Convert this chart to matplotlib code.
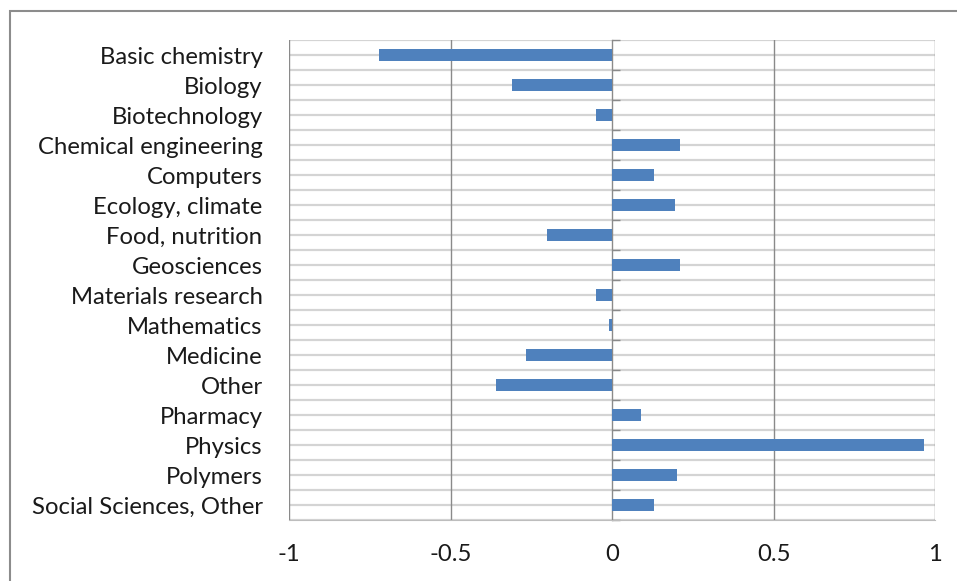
import matplotlib.pyplot as plt
import numpy as np
from matplotlib.patches import Rectangle

fields = ['Basic chemistry', 'Biology', 'Biotechnology', 'Chemical engineering',
          'Computers', 'Ecology, climate', 'Food, nutrition', 'Geosciences',
          'Materials research', 'Mathematics', 'Medicine', 'Other', 'Pharmacy',
          'Physics', 'Polymers', 'Social Sciences, Other']
values = [-0.72, -0.31, -0.05, 0.21, 0.13, 0.195, -0.20, 0.21,
          -0.05, -0.01, -0.265, -0.36, 0.09, 0.965, 0.20, 0.13]
xticks = [-1, -0.5, 0, 0.5, 1]
xticklabels = ['-1', '-0.5', '0', '0.5', '1']

W, H = 957, 581
fig = plt.figure(figsize=(W / 100, H / 100), dpi=100)
ax = fig.add_axes([289 / W, 1 - 520 / H, (935 - 289) / W, (520 - 40) / H])

# outer chart border (runs off the right and bottom edges)
fig.patches.append(Rectangle((10 / W, -0.1), 1.2, 1.1 - 11 / H, transform=fig.transFigure,
                             fill=False, edgecolor='#8c8c8c', linewidth=1.5))

n = len(fields)
pos = np.arange(n)

# horizontal grid at every half category
for y in np.arange(-0.5, n, 0.5):
    ax.axhline(y, color='#d4d4d4', linewidth=1.6, zorder=0)
for x in [-1, -0.5, 0.5, 1]:
    ax.axvline(x, color='#8a8a8a', linewidth=1.0, zorder=1)

ax.barh(pos, values, height=0.42, color='#4f81bd', zorder=3)

ax.set_xlim(-1, 1)
ax.set_ylim(n - 0.5, -0.5)
ax.set_yticks(pos)
ax.set_yticklabels(fields)
ax.set_xticks(xticks)
ax.set_xticklabels(xticklabels)
ax.tick_params(axis='y', length=0, pad=19, labelsize=17.2, labelcolor='#1a1a1a')
ax.tick_params(axis='x', length=0, pad=17, labelsize=17.2, labelcolor='#1a1a1a')
for lab in ax.get_xticklabels() + ax.get_yticklabels():
    lab.set_fontfamily(['Lato', 'DejaVu Sans'])
for s in ax.spines.values():
    s.set_visible(False)
ax.spines['bottom'].set_visible(True)
ax.spines['bottom'].set_color('#bdbdbd')

# category axis crossing at zero
zax = ax.secondary_yaxis(0.5)
zax.set_yticks(np.arange(-0.5, n, 1.0))
zax.set_yticklabels([])
zax.tick_params(axis='y', direction='out', length=6, color='#8a8a8a', width=1)
for s in zax.spines.values():
    s.set_color('#8a8a8a')
    s.set_linewidth(1.0)

fig.savefig('out.png', dpi=100)
